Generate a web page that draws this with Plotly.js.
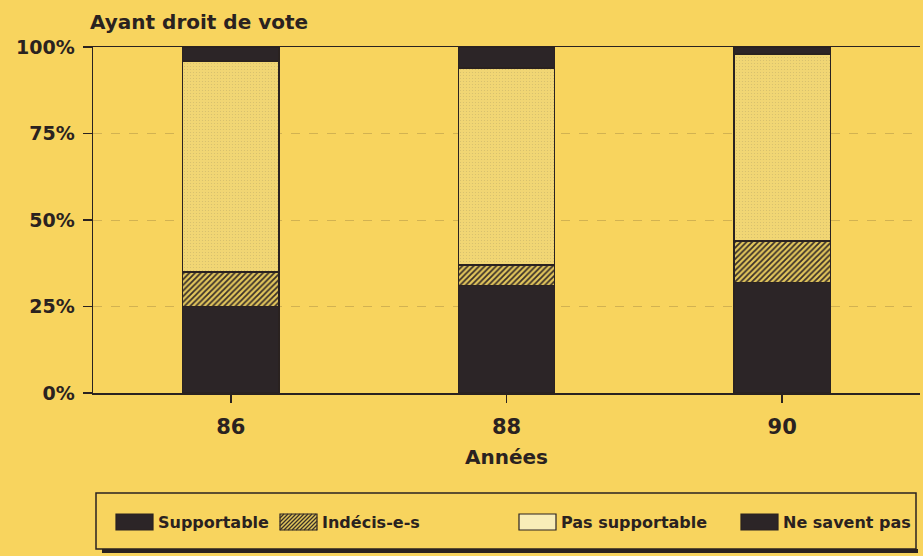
<!DOCTYPE html>
<html><head><meta charset="utf-8">
<script src="https://cdn.plot.ly/plotly-3.0.1.min.js"></script>
<style>html,body{margin:0;padding:0;background:#F8D45E;}</style>
</head><body><div id="chart" style="width:923px;height:556px;"></div>
<script>
// Data
const years = ['86', '88', '90'];
const supportable = [25, 31, 32];
const indecis = [10, 6, 12];
const pasSupportable = [61, 57, 54];
const neSaventPas = [4, 6, 2];
const seriesNames = ['Supportable', 'Indécis-e-s', 'Pas supportable', 'Ne savent pas'];
const yTickVals = [0, 25, 50, 75, 100];
const yTickText = ['0%', '25%', '50%', '75%', '100%'];
const chartTitle = 'Ayant droit de vote';
const xTitle = 'Années';

const BG = '#F8D45E';
const DARK = '#2c2527';
const LINE = '#2a2220';
const HATCH = '#3a3028';
const FONT = 'DejaVu Sans, Liberation Sans, Arial, sans-serif';

const W = 923, H = 556;
const PL = 93, PR = 920, PT = 47, PB = 393;
const px2x = p => (p - PL) / (PR - PL);
const px2y = p => (PB - p) / (PB - PT);

const barLine = {color: LINE, width: 1.5};
const seriesValues = [supportable, indecis, pasSupportable, neSaventPas];
const markers = [
  {color: DARK, line: barLine},
  {color: HATCH, line: barLine,
   pattern: {shape: '/', fgcolor: HATCH, bgcolor: '#E2C65C', size: 4, solidity: 0.45, fillmode: 'replace'}},
  {color: '#F1D674', line: barLine,
   pattern: {shape: '.', fgcolor: '#D2BC6C', bgcolor: '#F1D674', size: 3, solidity: 0.1, fillmode: 'replace'}},
  {color: DARK, line: barLine}
];
const swatchFill = [DARK, '#E2C65C', '#F8EDB8', DARK];

const data = seriesNames.map((name, i) => ({
  type: 'bar',
  name: name,
  x: years,
  y: seriesValues[i],
  marker: markers[i],
  width: 0.35,
  showlegend: false,
  hoverinfo: 'skip'
}));

// Legend drawn as a framed key: left edge of each label in the reference
const legendTextX = [157, 321, 560, 782];
const legendY = 522;
const legendFont = {family: FONT, size: 16, color: LINE, weight: 'bold'};

const shapes = [
  {type: 'rect', xref: 'paper', yref: 'paper', layer: 'below',
   x0: px2x(96), x1: px2x(916), y0: px2y(493), y1: px2y(549),
   line: {color: LINE, width: 1.5}, fillcolor: 'rgba(0,0,0,0)'},
  {type: 'line', xref: 'paper', yref: 'paper',
   x0: px2x(102), x1: px2x(918), y0: px2y(551), y1: px2y(551),
   line: {color: LINE, width: 4}}
];
const annotations = [];

seriesNames.forEach((name, i) => {
  const x1 = legendTextX[i] - 4, x0 = x1 - 37;
  const yt = legendY - 8, yb = legendY + 8;
  shapes.push({type: 'rect', xref: 'paper', yref: 'paper', layer: 'above',
    x0: px2x(x0), x1: px2x(x1), y0: px2y(yb), y1: px2y(yt),
    fillcolor: swatchFill[i], line: {color: LINE, width: 1.2}});
  if (markers[i].pattern && markers[i].pattern.shape === '/') {
    const h = yb - yt;
    for (let a = x0 - h; a < x1; a += 4) {
      let sx = a, sy = yb, ex = a + h, ey = yt;
      if (sx < x0) { sy = yb - (x0 - sx); sx = x0; }
      if (ex > x1) { ey = yt + (ex - x1); ex = x1; }
      if (ex - sx < 0.5) continue;
      shapes.push({type: 'line', xref: 'paper', yref: 'paper', layer: 'above',
        x0: px2x(sx), y0: px2y(sy), x1: px2x(ex), y1: px2y(ey),
        line: {color: HATCH, width: 1.3}});
    }
  }
  annotations.push({xref: 'paper', yref: 'paper', x: px2x(legendTextX[i] - 1), y: px2y(legendY),
    xanchor: 'left', yanchor: 'middle', text: name, showarrow: false, font: legendFont});
});

const layout = {
  width: W, height: H,
  paper_bgcolor: BG, plot_bgcolor: BG,
  margin: {l: PL, r: W - PR, t: PT, b: H - PB, pad: 0},
  barmode: 'stack',
  showlegend: false,
  title: {
    text: chartTitle, xref: 'container', yref: 'container',
    x: 90 / W, xanchor: 'left', y: 1 - 22 / H, yanchor: 'middle',
    font: {family: FONT, size: 20, color: LINE, weight: 'bold'}
  },
  xaxis: {
    type: 'category', categoryorder: 'array', categoryarray: years,
    range: [-0.5, 2.5],
    showline: true, linecolor: LINE, linewidth: 1.5, mirror: true,
    ticks: 'outside', ticklen: 8, tickwidth: 1.5, tickcolor: LINE,
    tickfont: {family: FONT, size: 21, color: LINE, weight: 'bold'},
    ticklabelstandoff: 6,
    showgrid: false, zeroline: false,
    title: {text: xTitle, standoff: 12, font: {family: FONT, size: 20, color: LINE, weight: 'bold'}}
  },
  yaxis: {
    range: [0, 100],
    tickvals: yTickVals, ticktext: yTickText,
    showline: true, linecolor: LINE, linewidth: 1.5,
    ticks: 'outside', ticklen: 9, tickwidth: 1.5, tickcolor: LINE,
    tickfont: {family: FONT, size: 19, color: LINE, weight: 'bold'},
    ticklabelstandoff: 4,
    showgrid: true, gridcolor: 'rgba(110,90,50,0.28)', gridwidth: 1, griddash: 'dash',
    zeroline: false
  },
  shapes: shapes,
  annotations: annotations
};

Plotly.newPlot('chart', data, layout, {staticPlot: true, displayModeBar: false});
</script>
</body></html>
